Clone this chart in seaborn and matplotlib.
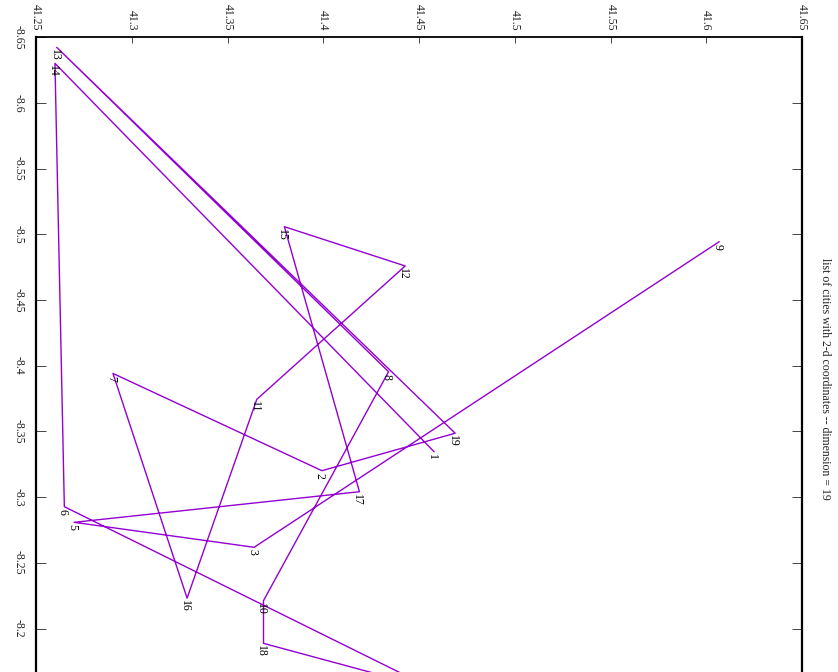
import matplotlib
matplotlib.use("Agg")
import matplotlib.pyplot as plt
import matplotlib.ticker as mticker
import numpy as np
import pandas as pd
import seaborn as sns

# City coordinates (city number -> position)
city_ids = list(range(1, 20))
city_x = [41.4579, 41.3993, 41.3639, 41.4577, 41.2699, 41.2648, 41.2902,
          41.4341, 41.6068, 41.3688, 41.3653, 41.4428, 41.2608, 41.2599,
          41.3797, 41.3289, 41.4189, 41.3688, 41.4689]
city_y = [-8.3345, -8.3201, -8.2618, -8.1537, -8.2808, -8.2927, -8.3941,
          -8.3954, -8.4944, -8.2212, -8.3744, -8.4759, -8.6423, -8.6301,
          -8.5058, -8.2231, -8.3041, -8.1887, -8.3486]

# Visiting order of the route
route = [1, 14, 6, 4, 18, 10, 8, 13, 19, 2, 7, 16, 11, 12, 15, 17, 5, 3, 9]

x_ticks = [41.25, 41.30, 41.35, 41.40, 41.45, 41.50, 41.55, 41.60, 41.65]
y_ticks = [-8.65, -8.60, -8.55, -8.50, -8.45, -8.40, -8.35, -8.30, -8.25, -8.20]

title_text = "list of cities with 2-d coordinates -- dimension = 19"

sns.set_theme(style="white")
plt.rcParams["font.family"] = ["Liberation Serif", "DejaVu Serif"]

cities = pd.DataFrame({"city": city_ids, "x": city_x, "y": city_y}).set_index("city")
path = cities.loc[route].reset_index()
path["step"] = np.arange(len(path))

W, H = 838, 672
fig = plt.figure(figsize=(W / 100, H / 100), dpi=100)
left, right, top, bottom = 36, 802, 37.2, 694.2
ax = fig.add_axes([left / W, (H - bottom) / H, (right - left) / W, (bottom - top) / H])

sns.lineplot(data=path, x="x", y="y", sort=False, estimator=None,
             color="#9400D3", linewidth=1.0, ax=ax)

for cid, cx, cy in zip(city_ids, city_x, city_y):
    ax.annotate(str(cid), (cx, cy), xytext=(-1.5, -1.5), textcoords="offset points",
                rotation=-90, ha="center", va="top", fontsize=8.5, color="black",
                annotation_clip=False)

ax.set_xlim(41.25, 41.65)
ax.set_ylim(-8.15, -8.65)
ax.set_xlabel("")
ax.set_ylabel("")

ax.set_xticks(x_ticks)
ax.set_yticks(y_ticks)
fmt = mticker.FuncFormatter(lambda v, p: "%g" % round(v, 2))
ax.xaxis.set_major_formatter(fmt)
ax.yaxis.set_major_formatter(fmt)

ax.xaxis.tick_top()
ax.tick_params(axis="x", which="both", top=True, bottom=True, direction="in",
               length=4.3, width=0.7, color="#444444", pad=5,
               labelrotation=-90, labelsize=8.5, labelcolor="#222222")
ax.tick_params(axis="y", which="both", left=True, right=True, direction="in",
               length=7.2, width=0.7, color="#444444", pad=8.5,
               labelrotation=-90, labelsize=8.5, labelcolor="#222222")
for lab in ax.get_yticklabels():
    lab.set_verticalalignment("center")

for side, s in ax.spines.items():
    s.set_visible(True)
    s.set_color("black")
    s.set_linewidth(1.3)
ax.spines["left"].set_linewidth(1.6)
ax.spines["right"].set_linewidth(1.6)

fig.text(825 / W, (H - 379) / H, title_text, rotation=-90, ha="center", va="center",
         fontsize=8.5, color="#222222")

fig.savefig("out.png", dpi=100)
